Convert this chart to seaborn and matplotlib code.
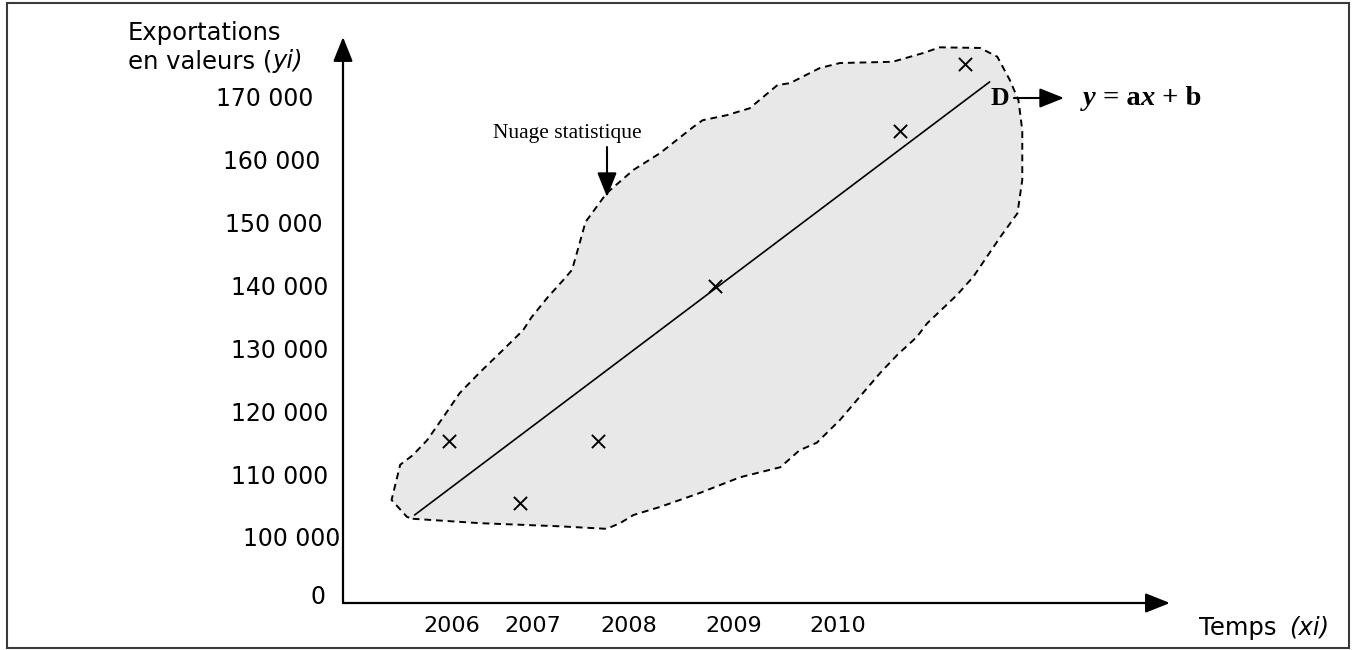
import matplotlib
matplotlib.use('Agg')
import matplotlib.pyplot as plt
from matplotlib.patches import Rectangle, FancyArrowPatch
from matplotlib.transforms import ScaledTranslation
import seaborn as sns

# points of the cloud (years, thousands)
pt_x = [2005.96, 2006.70, 2007.51, 2008.73, 2010.66, 2011.33]
pt_y = [115.3, 105.4, 115.3, 139.9, 164.6, 175.2]

# drawn line D
line_x = [2005.60, 2011.59]
line_y = [103.5, 172.4]

# outline of the "nuage statistique"
blob_x = [2005.58, 2006.28, 2007.11, 2007.60, 2007.74, 2007.88, 2008.16, 2008.57, 2008.99, 2009.41,
          2009.61, 2009.79, 2010.03, 2010.27, 2010.45, 2010.63, 2010.83, 2010.94, 2011.25, 2011.42,
          2011.70, 2011.88, 2011.93, 2011.93, 2011.89, 2011.80, 2011.67, 2011.49, 2011.07, 2010.90,
          2010.58, 2010.03, 2009.82, 2009.51, 2009.38, 2009.09, 2008.85, 2008.60, 2008.50, 2008.16,
          2007.88, 2007.60, 2007.38, 2007.32, 2007.24, 2007.15, 2006.99, 2006.82, 2006.73, 2006.49,
          2006.28, 2006.07, 2005.90, 2005.73, 2005.58, 2005.45, 2005.36, 2005.52]
blob_y = [102.9, 102.2, 101.7, 101.3, 102.2, 103.5, 104.8, 107.0, 109.5, 111.1,
          113.8, 115.0, 118.6, 122.9, 126.1, 129.0, 131.8, 134.0, 138.5, 141.4,
          147.7, 151.5, 156.8, 164.7, 169.5, 172.7, 176.4, 177.8, 177.9, 177.0,
          175.6, 175.4, 174.6, 172.2, 171.9, 168.2, 167.1, 166.3, 165.2, 161.1,
          158.4, 154.7, 150.1, 146.8, 142.5, 140.9, 138.2, 135.0, 132.9, 129.3,
          126.2, 122.9, 119.1, 115.4, 113.0, 111.5, 105.9, 103.2]

xtick_pos = [2005.99, 2006.83, 2007.83, 2008.92, 2010.01]
xtick_labels = ['2006', '2007', '2008', '2009', '2010']
ytick_pos = [90.8, 100, 110, 120, 130, 140, 150, 160, 170]
ytick_labels = ['0', '100 000', '110 000', '120 000', '130 000', '140 000',
                '150 000', '160 000', '170 000']
# the labels are not quite aligned in the original (pixels)
ytick_shift = [-3, 12, 0, 0, 0, 0, -5, -8, -15]

sns.set_theme(style='white')
plt.rcParams['font.family'] = ['DejaVu Sans']
plt.rcParams['text.color'] = 'black'
plt.rcParams['xtick.color'] = 'black'
plt.rcParams['ytick.color'] = 'black'

W, H = 1354, 650
fig = plt.figure(figsize=(W / 100, H / 100), dpi=100)


def fpos(x, y):
    # pixel position -> figure fraction
    return x / W, 1 - y / H


ax = fig.add_axes([343 / W, (H - 603) / H, 837 / W, 568 / H])
ax.set_xlim(2004.854, 2013.573)
ax.set_ylim(89.5, 179.86)
ax.patch.set_alpha(0)

ax.fill(blob_x, blob_y, facecolor='#e8e8e8', edgecolor='black',
        linestyle=(0, (3.5, 2.5)), linewidth=1.4, zorder=1)
sns.lineplot(x=line_x, y=line_y, sort=False, color='black', linewidth=1.2, ax=ax, zorder=2)
sns.scatterplot(x=pt_x, y=pt_y, marker='x', s=90, color='black', linewidth=1.4, ax=ax, zorder=3)

for s in ax.spines.values():
    s.set_visible(False)
ax.set_xticks(xtick_pos, xtick_labels, fontsize=16)
ax.set_yticks(ytick_pos, ytick_labels, fontsize=17)
ax.tick_params(axis='both', length=0)
ax.tick_params(axis='x', pad=9)
ax.tick_params(axis='y', pad=10.8)
for lab, dx in zip(ax.get_yticklabels(), ytick_shift):
    lab.set_transform(lab.get_transform() + ScaledTranslation(dx / 100, 0, fig.dpi_scale_trans))

# axes with arrow heads
head = '-|>,head_length=0.75,head_width=0.3'
arr = dict(arrowstyle=head, color='black', lw=1.6, mutation_scale=20, shrinkA=0, shrinkB=0)
ax.annotate('', xy=(0.988, 0), xytext=(0, 0), xycoords='axes fraction', arrowprops=arr)
ax.annotate('', xy=(0, 0.9965), xytext=(0, 0), xycoords='axes fraction', arrowprops=arr)

# axis titles
fig.text(*fpos(128, 40), 'Exportations', fontsize=17.5, va='baseline')
t = fig.text(*fpos(128, 68), 'en valeurs (', fontsize=17.5, va='baseline')
ax.annotate('yi)', xy=(1, 0), xycoords=t, va='bottom', fontsize=17.5, style='italic')

t = fig.text(*fpos(1199, 635), 'Temps', fontsize=17.5, va='baseline')
ax.annotate('(xi)', xy=(1, 0), xycoords=t, xytext=(9, 0), textcoords='offset points',
            va='bottom', fontsize=17.5, style='italic')

# Nuage statistique label + arrow
fig.text(*fpos(642, 138), 'Nuage statistique', fontsize=15.5, ha='right', va='baseline',
         family='Liberation Serif')
fig.patches.append(FancyArrowPatch(fpos(607, 147), fpos(607, 197), transform=fig.transFigure,
                                   arrowstyle=head, mutation_scale=20, color='black', lw=1.5,
                                   shrinkA=0, shrinkB=0))

# D label, arrow and equation
fig.text(*fpos(991, 105), 'D', fontsize=18.5, weight='bold', va='baseline', family='Liberation Serif')
fig.patches.append(FancyArrowPatch(fpos(1014, 98), fpos(1064, 98), transform=fig.transFigure,
                                   arrowstyle=head, mutation_scale=20, color='black', lw=1.5,
                                   shrinkA=0, shrinkB=0))
serif = dict(family='Liberation Serif', fontsize=20.5, weight='bold', va='bottom')
t = fig.text(*fpos(1083, 105), 'y', family='Liberation Serif', fontsize=20.5, weight='bold',
             style='italic', va='baseline')
t = ax.annotate(' = a', xy=(1, 0), xycoords=t, **serif)
t = ax.annotate('x', xy=(1, 0), xycoords=t, style='italic', **serif)
t = ax.annotate(' + b', xy=(1, 0), xycoords=t, **serif)

# frame around the figure
fig.patches.append(Rectangle(fpos(7, 648), 1342 / W, 645 / H, transform=fig.transFigure,
                             fill=False, edgecolor='#3a3a3a', linewidth=1.5))

fig.savefig('out.png', dpi=100)
